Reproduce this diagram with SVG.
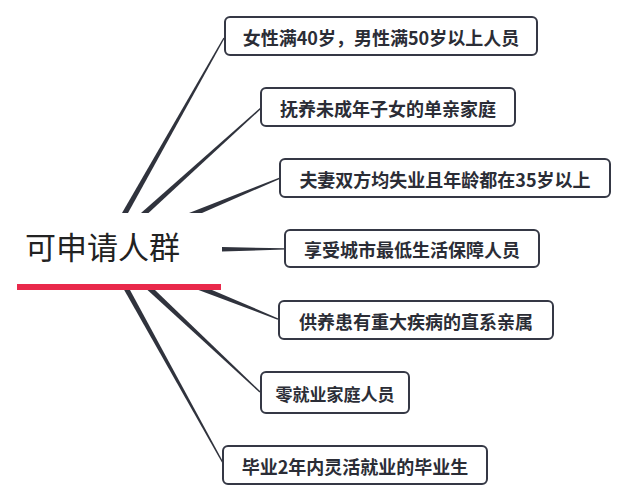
<svg xmlns="http://www.w3.org/2000/svg" width="619" height="501" viewBox="0 0 619 501">
<style>
.box{fill:#ffffff;stroke:#353845;stroke-width:2}
.lbl{font-family:"Noto Sans CJK SC","Liberation Sans",sans-serif;font-size:18px;font-weight:bold;fill:#2b2d36;text-anchor:middle;dominant-baseline:central}
.conn{fill:#30333d;stroke:none}
.title{font-family:"Noto Sans CJK SC","Liberation Sans",sans-serif;font-size:31px;fill:#222222}
</style>
<rect width="619" height="501" fill="#ffffff"/>
<g id="connectors">
<path class="conn" d="M122,213 L223.4,37.7 L224.6,38.3 L128,213 Z"/>
<path class="conn" d="M141,213 L260.5,107.5 L261.5,108.5 L148.5,213 Z"/>
<path class="conn" d="M189,213 L279.7,177.4 L280.3,178.7 L202,213 Z"/>
<path class="conn" d="M222,247 L285,248.3 L285,249.5 L222,251.5 Z"/>
<path class="conn" d="M198.5,290 L277.7,319.7 L278.3,318.4 L212,290 Z"/>
<path class="conn" d="M147.5,290 L259.5,392.5 L260.5,391.5 L155,290 Z"/>
<path class="conn" d="M124.2,290 L222.4,463.3 L223.6,462.7 L130,290 Z"/>
</g>
<g id="root">
<text class="title" x="25" y="259">可申请人群</text>
<rect x="17" y="284" width="204" height="6" fill="#e9294b"/>
</g>
<g id="n1"><rect class="box" x="225" y="17" width="312" height="38" rx="5"/><text class="lbl" x="381" y="36.5">女性满40岁，男性满50岁以上人员</text></g>
<g id="n2"><rect class="box" x="261" y="88" width="254" height="38" rx="5"/><text class="lbl" x="388" y="107.5">抚养未成年子女的单亲家庭</text></g>
<g id="n3"><rect class="box" x="280" y="159" width="330" height="38" rx="5"/><text class="lbl" x="445" y="178.5">夫妻双方均失业且年龄都在35岁以上</text></g>
<g id="n4"><rect class="box" x="285" y="230" width="254" height="37" rx="5"/><text class="lbl" x="412" y="249">享受城市最低生活保障人员</text></g>
<g id="n5"><rect class="box" x="279" y="301" width="274" height="38" rx="5"/><text class="lbl" x="416" y="320.5">供养患有重大疾病的直系亲属</text></g>
<g id="n6"><rect class="box" x="261" y="372" width="148" height="41" rx="5"/><text class="lbl" x="335" y="393" style="font-size:17px">零就业家庭人员</text></g>
<g id="n7"><rect class="box" x="223" y="446" width="264" height="38" rx="5"/><text class="lbl" x="355" y="465.5">毕业2年内灵活就业的毕业生</text></g>
</svg>
